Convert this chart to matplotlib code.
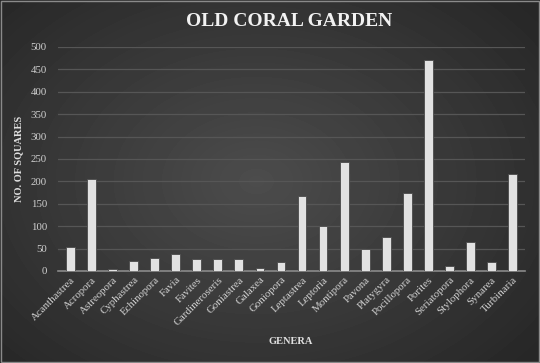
import numpy as np
from matplotlib import pyplot as plt

# Datos
generos = ['Acanthastrea', 'Acropora', 'Astreopora', 'Cyphastrea', 'Echinopora',
           'Favia', 'Favites', 'Gardineroseris', 'Goniastrea', 'Galaxea',
           'Goniopora', 'Leptastrea', 'Leptoria', 'Montipora', 'Pavona',
           'Platygyra', 'Pocillopora', 'Porites', 'Seriatopora', 'Stylophora',
           'Synarea', 'Turbinaria']
cuadros = [53, 206, 5, 23, 30, 39, 26, 27, 27, 7, 19, 167, 100, 243, 49, 76,
           175, 470, 12, 65, 20, 217]
y_ticks = [0, 50, 100, 150, 200, 250, 300, 350, 400, 450, 500]

serif = 'Liberation Serif'

fig = plt.figure(figsize=(5.4, 3.63), dpi=100)

# fondo con degradado radial
bg = fig.add_axes([0, 0, 1, 1])
gx, gy = np.meshgrid(np.linspace(-1, 1, 540), np.linspace(-1, 1, 363))
r = np.sqrt(((gx + 0.05) / 1.1) ** 2 + (gy / 1.2) ** 2)
img = 0.30 - 0.12 * np.clip(r, 0, 1.2)
bg.imshow(img, cmap='gray', vmin=0, vmax=1, aspect='auto', extent=[0, 1, 0, 1])
bg.set_xlim(0, 1)
bg.set_ylim(0, 1)
bg.axis('off')
bg.add_patch(plt.Rectangle((0.002, 0.003), 0.996, 0.994, fill=False,
                           edgecolor='#8a8a8a', lw=1.0, transform=bg.transAxes))

ax = fig.add_axes([58 / 540, 1 - 271 / 363, 467 / 540, 224 / 363])
ax.patch.set_alpha(0)
x = np.arange(len(generos))
ax.bar(x, cuadros, width=0.42, color='#e2e2e2', edgecolor='#4a4a4a', lw=0.6, zorder=3)

ax.set_xlim(-0.6, len(generos) - 0.4)
ax.set_ylim(0, 500)
ax.set_yticks(y_ticks)
ax.yaxis.grid(True, color='#565656', lw=0.9, zorder=0)
for s in ['top', 'right', 'left']:
    ax.spines[s].set_visible(False)
ax.spines['bottom'].set_color('#8a8a8a')
ax.spines['bottom'].set_linewidth(1.2)
ax.tick_params(length=0, colors='#d0d0d0', labelsize=7.8)
ax.tick_params(axis='y', pad=8)
ax.tick_params(axis='x', pad=3)
ax.set_xticks(x)
ax.set_xticklabels(generos, rotation=45, ha='right', rotation_mode='anchor', family=serif)
for lbl in ax.get_yticklabels():
    lbl.set_family(serif)

ax.set_ylabel('NO. OF SQUARES', family=serif, fontweight='bold', fontsize=7.5,
              color='#e0e0e0', labelpad=5)
fig.text(291 / 540, 1 - 341 / 363, 'GENERA', family=serif, fontweight='bold',
         fontsize=7.5, color='#e0e0e0', ha='center', va='center')
fig.text(289 / 540, 1 - 21 / 363, 'OLD CORAL GARDEN', family=serif, fontweight='bold',
         fontsize=14, color='#f2f2f2', ha='center', va='center')

fig.savefig('out.png', dpi=100)
